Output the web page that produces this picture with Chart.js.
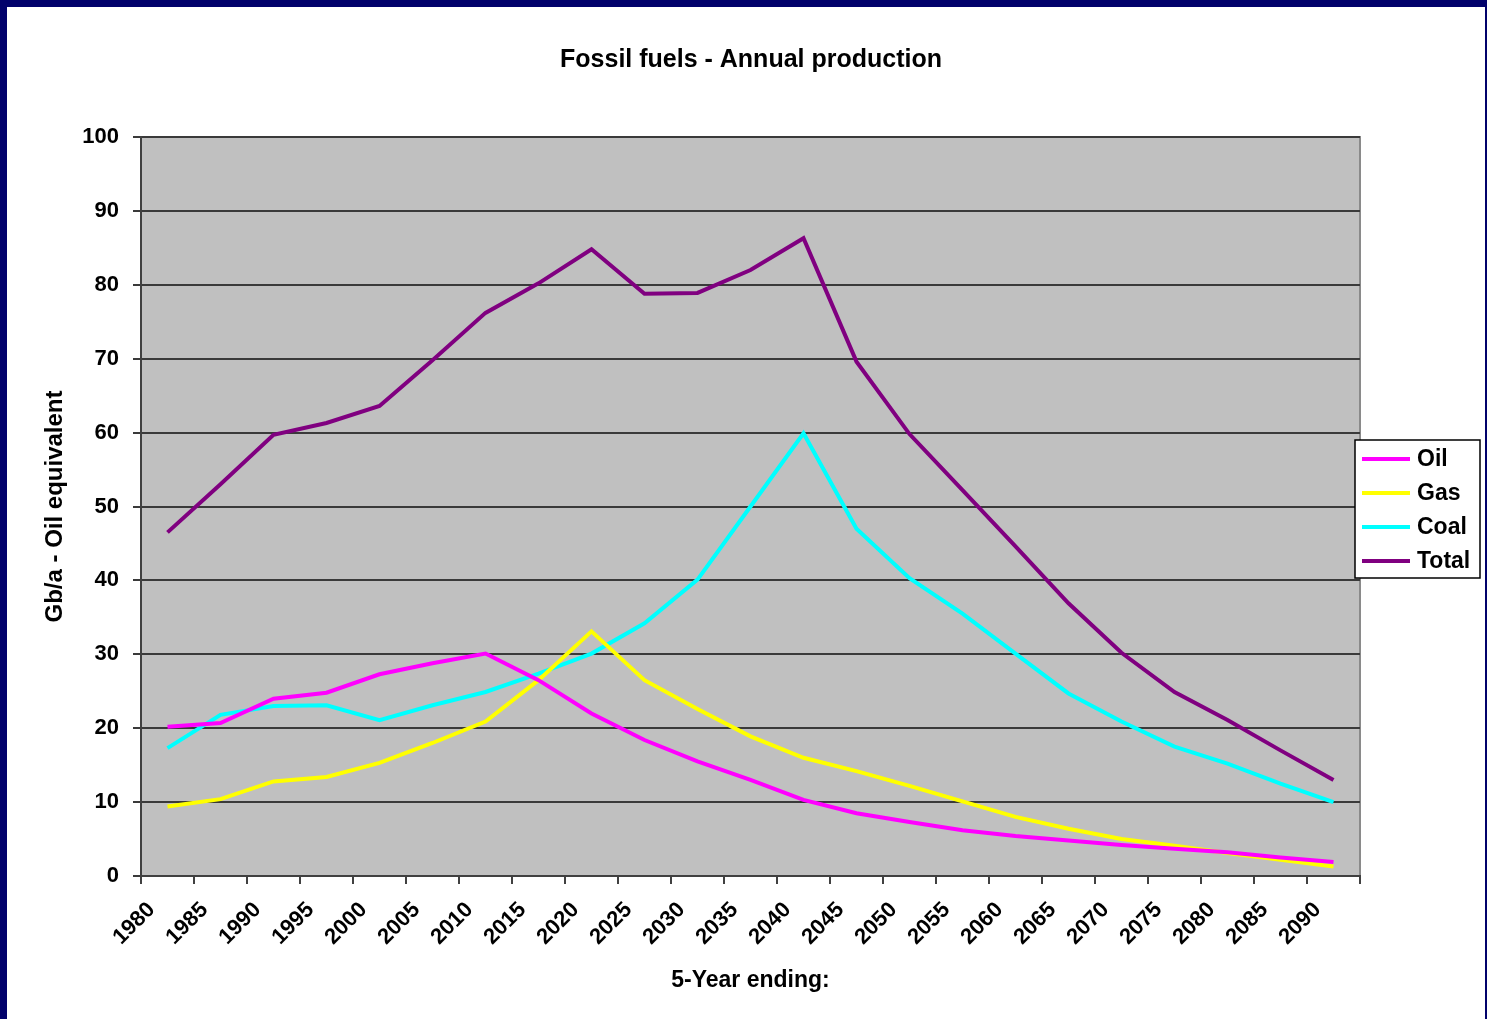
<!DOCTYPE html>
<html>
<head>
<meta charset="utf-8">
<title>Fossil fuels - Annual production</title>
<script src="https://cdn.jsdelivr.net/npm/chart.js@4.4.0/dist/chart.umd.min.js"></script>
<style>
  html, body { margin: 0; padding: 0; background: #01016b; overflow: hidden; }
  #frame { position: absolute; left: 7px; top: 7px; width: 1478px; height: 1012px; background: #ffffff; }
  canvas { display: block; }
</style>
</head>
<body>
<div id="frame"><canvas id="fuels" width="1478" height="1012"></canvas></div>
<script>
// 5-year periods (label = first year of the period)
var years = ['1980', '1985', '1990', '1995', '2000', '2005', '2010', '2015', '2020', '2025', '2030', '2035',
             '2040', '2045', '2050', '2055', '2060', '2065', '2070', '2075', '2080', '2085', '2090'];

// Gb/a oil equivalent
var oil   = [20.2, 20.7, 24.0, 24.8, 27.3, 28.8, 30.1, 26.5, 22.0, 18.4, 15.5, 13.0,
             10.3, 8.5, 7.3, 6.2, 5.4, 4.8, 4.2, 3.7, 3.2, 2.5, 1.9];
var gas   = [9.4, 10.4, 12.8, 13.4, 15.3, 18.0, 20.9, 26.5, 33.1, 26.5, 22.6, 18.9,
             16.0, 14.2, 12.2, 10.1, 8.0, 6.4, 5.0, 4.1, 3.1, 2.2, 1.3];
var coal  = [17.3, 21.8, 23.0, 23.1, 21.1, 23.1, 24.9, 27.4, 30.1, 34.2, 40.1, 50.0,
             59.9, 47.0, 40.3, 35.5, 30.1, 24.7, 20.9, 17.5, 15.2, 12.5, 10.0];
var total = [46.5, 53.0, 59.7, 61.3, 63.6, 69.8, 76.2, 80.2, 84.8, 78.8, 78.9, 82.0,
             86.3, 69.6, 59.8, 52.2, 44.6, 36.9, 30.2, 24.9, 21.1, 17.0, 13.0];

var seriesNames  = ['Oil', 'Gas', 'Coal', 'Total'];
var seriesColors = ['#ff00ff', '#ffff00', '#00ffff', '#800080'];
var chartTitle = 'Fossil fuels - Annual production';

Chart.defaults.font.family = '"Liberation Sans", Arial, sans-serif';
Chart.defaults.color = '#000000';

// grey plot area with a thin frame
var plotBackground = {
  id: 'plotBackground',
  beforeDraw: function(chart) {
    var a = chart.chartArea;
    var ctx = chart.ctx;
    ctx.save();
    ctx.fillStyle = '#c0c0c0';
    ctx.fillRect(a.left, a.top, a.right - a.left, a.bottom - a.top);
    ctx.strokeStyle = '#8a8a8a';
    ctx.lineWidth = 2;
    ctx.strokeRect(a.left, a.top, a.right - a.left, a.bottom - a.top);
    ctx.restore();
  }
};

// title centred on the whole page, not only on the plot
var pageTitle = {
  id: 'pageTitle',
  afterDraw: function(chart) {
    var ctx = chart.ctx;
    ctx.save();
    ctx.font = 'bold 25px "Liberation Sans", Arial, sans-serif';
    ctx.fillStyle = '#000000';
    ctx.textAlign = 'center';
    ctx.textBaseline = 'middle';
    ctx.fillText(chartTitle, chart.width / 2 + 5, 53);
    ctx.restore();
  }
};

// boxed legend sitting on the right edge of the plot
var boxLegend = {
  id: 'boxLegend',
  afterDraw: function(chart) {
    var ctx = chart.ctx;
    var a = chart.chartArea;
    var x = a.right - 5;
    var y = 433;
    var w = 125;
    var h = 138;
    ctx.save();
    ctx.fillStyle = '#ffffff';
    ctx.fillRect(x, y, w, h);
    ctx.strokeStyle = '#000000';
    ctx.lineWidth = 1.5;
    ctx.strokeRect(x, y, w, h);
    ctx.font = 'bold 23px "Liberation Sans", Arial, sans-serif';
    ctx.textBaseline = 'middle';
    ctx.textAlign = 'left';
    chart.data.datasets.forEach(function(ds, i) {
      var cy = y + 19 + i * 34;
      ctx.strokeStyle = ds.borderColor;
      ctx.lineWidth = 4;
      ctx.beginPath();
      ctx.moveTo(x + 7, cy);
      ctx.lineTo(x + 55, cy);
      ctx.stroke();
      ctx.fillStyle = '#000000';
      ctx.fillText(ds.label, x + 62, cy + 1);
    });
    ctx.restore();
  }
};

var seriesData = [oil, gas, coal, total];
var datasets = [];
for (var i = 0; i < seriesNames.length; i++) {
  datasets.push({
    label: seriesNames[i],
    data: seriesData[i],
    borderColor: seriesColors[i],
    backgroundColor: seriesColors[i],
    borderWidth: 4,
    pointRadius: 0,
    tension: 0,
    fill: false
  });
}

var fuelsChart = new Chart(document.getElementById('fuels').getContext('2d'), {
  type: 'line',
  data: {
    labels: years,
    datasets: datasets
  },
  plugins: [plotBackground, pageTitle, boxLegend],
  options: {
    responsive: false,
    animation: false,
    devicePixelRatio: 1,
    layout: { padding: { left: 0, right: 125, top: 130, bottom: 0 } },
    plugins: {
      legend: { display: false },
      tooltip: { enabled: false },
      title: { display: false }
    },
    scales: {
      x: {
        offset: true,
        grid: {
          offset: true,
          drawOnChartArea: false,
          drawTicks: true,
          tickLength: 8,
          color: '#404040',
          lineWidth: 2
        },
        border: { color: '#404040', width: 2 },
        ticks: {
          font: { size: 22, weight: 'bold' },
          color: '#000000',
          minRotation: 45,
          maxRotation: 45,
          autoSkip: false,
          labelOffset: -16,
          padding: 13
        },
        title: {
          display: true,
          text: '5-Year ending:',
          font: { size: 23, weight: 'bold' },
          color: '#000000',
          padding: { top: 0, bottom: 25 }
        },
        afterFit: function(scale) { scale.height = 143; }
      },
      y: {
        min: 0,
        max: 100,
        grid: {
          color: '#3a3a3a',
          lineWidth: 2,
          tickLength: 8
        },
        border: { color: '#404040', width: 2 },
        ticks: {
          stepSize: 10,
          font: { size: 22, weight: 'bold' },
          color: '#000000',
          padding: 14
        },
        title: {
          display: true,
          text: 'Gb/a - Oil equivalent',
          font: { size: 24, weight: 'bold' },
          color: '#000000',
          padding: { top: 34, bottom: 0 }
        },
        afterFit: function(scale) { scale.width = 134; }
      }
    }
  }
});
</script>
</body>
</html>
